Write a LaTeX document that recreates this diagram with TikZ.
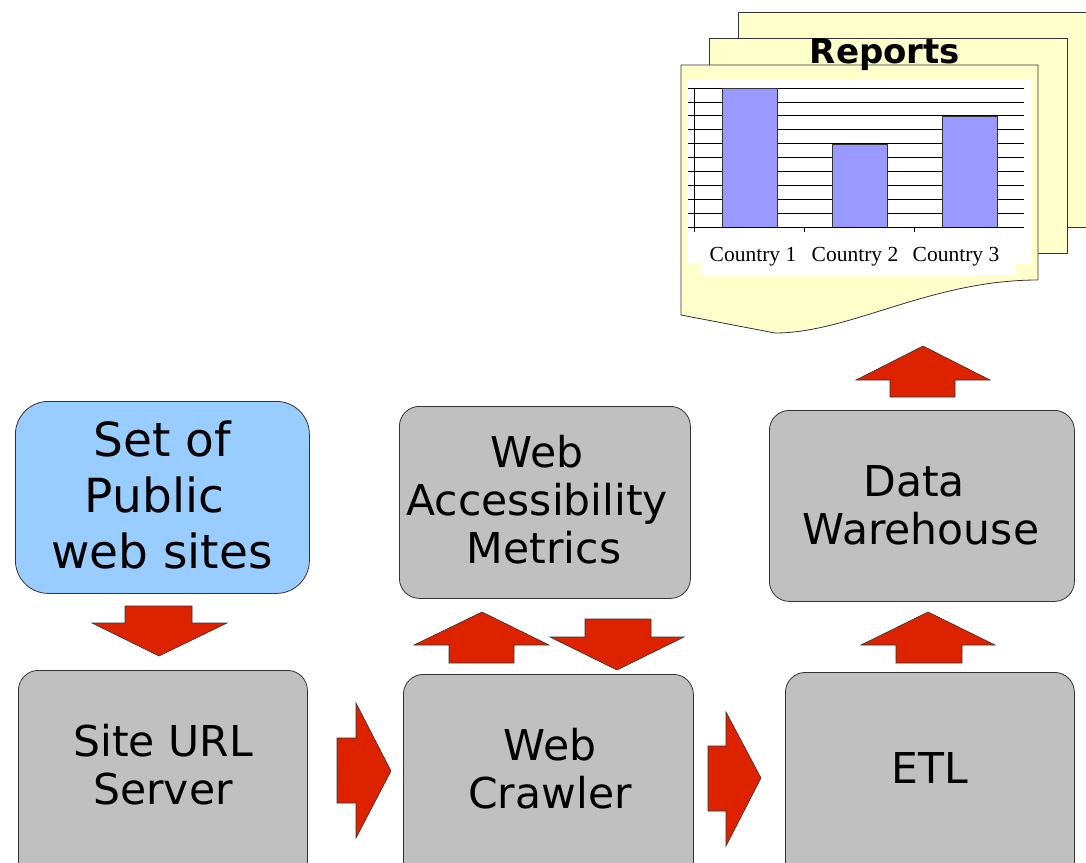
\documentclass[tikz,border=0pt]{standalone}
\usepackage{fontspec}
\setmainfont{DejaVu Sans}
\newfontfamily\chartfont{Liberation Serif}
\definecolor{boxblue}{HTML}{99CCFF}
\definecolor{boxgray}{HTML}{C0C0C0}
\definecolor{arrred}{HTML}{DD2200}
\definecolor{pageyellow}{HTML}{FFFFCC}
\definecolor{barblue}{HTML}{9999FF}
\definecolor{edge}{HTML}{333333}
\newcommand{\trail}[1]{\rule{#1}{0pt}}
\begin{document}
\begin{tikzpicture}[x=1pt,y=-1pt,
  graybox/.style={draw=edge, line width=0.8pt, fill=boxgray, rounded corners=20pt, anchor=north west, inner sep=0pt},
  bluebox/.style={draw=edge, line width=0.8pt, fill=boxblue, rounded corners=33pt, anchor=north west, inner sep=0pt},
  boxtext/.style={align=center, inner sep=0pt, font=\fontsize{42.5}{48}\selectfont},
  bigtext/.style={align=center, inner sep=0pt, font=\fontsize{47}{56}\selectfont},
  blockarrow/.style={fill=arrred, draw=black!80, line width=0.6pt},
  page/.style={fill=pageyellow, draw=edge, line width=0.8pt},
  grid/.style={draw=black, line width=0.8pt},
  bar/.style={fill=barblue, draw=edge, line width=0.8pt},
  country/.style={font=\chartfont\fontsize{21.5}{24}\selectfont, anchor=base, inner sep=0pt}
]
\useasboundingbox (0,0) rectangle (1086,862);

% ---------- boxes ----------
\node[bluebox, minimum width=294pt, minimum height=192pt] (sites) at (15,401) {};
\node[bigtext] (sitesT) at (162,495) {Set of\\Public\trail{15pt}\\web sites};

\node[graybox, minimum width=289pt, minimum height=220pt] (url) at (18,670) {};
\node[boxtext] (urlT) at (163,765) {Site URL\\Server};

\node[graybox, minimum width=291pt, minimum height=192pt] (wam) at (399,406) {};
\node[boxtext] (wamT) at (544,500) {Web\trail{13.5pt}\\Accessibility\trail{13.5pt}\\Metrics};

\node[graybox, minimum width=290pt, minimum height=220pt] (crawl) at (403,674) {};
\node[boxtext] (crawlT) at (550,769) {Web\\Crawler};

\node[graybox, minimum width=305pt, minimum height=191pt] (dw) at (769,410) {};
\node[boxtext] (dwT) at (921,505) {Data\trail{13.5pt}\\Warehouse};

\node[graybox, minimum width=289pt, minimum height=220pt] (etl) at (785,672) {};
\node[boxtext] (etlT) at (930,768) {ETL};

% ---------- block arrows ----------
% down: sites -> url
\draw[blockarrow] (125,606) -- (192,606) -- (192,623) -- (227,623) -- (159,656) -- (92,623) -- (125,623) -- cycle;
% up: crawler -> metrics
\draw[blockarrow] (449,663) -- (449,645) -- (414,645) -- (482,612) -- (549,645) -- (514,645) -- (514,663) -- cycle;
% down: metrics -> crawler
\draw[blockarrow] (585,619) -- (651,619) -- (651,637) -- (684,637) -- (617,670) -- (550,637) -- (585,637) -- cycle;
% right: url -> crawler
\draw[blockarrow] (337,738) -- (356,738) -- (356,703) -- (391,771) -- (356,838) -- (356,803) -- (337,803) -- cycle;
% right: crawler -> etl
\draw[blockarrow] (708,746) -- (726,746) -- (726,712) -- (761,778) -- (726,846) -- (726,811) -- (708,811) -- cycle;
% up: etl -> dw
\draw[blockarrow] (896,663) -- (896,645) -- (861,645) -- (928,612) -- (995,645) -- (962,645) -- (962,663) -- cycle;
% up: dw -> reports
\draw[blockarrow] (890,397) -- (890,380) -- (856,380) -- (923,346) -- (990,380) -- (955,380) -- (955,397) -- cycle;

% ---------- reports ----------
\draw[page] (738,12) rectangle (1100,227);
\draw[page] (709,38) rectangle (1067,253);
\draw[page] (681,65) -- (1038,65) -- (1038,280)
  .. controls (930,280) and (850,333) .. (775,333)
  -- (681,315) -- cycle;
\node[font=\bfseries\fontsize{34}{40}\selectfont, anchor=base, inner sep=0pt] (rep) at (885,63) {Reports};

\fill[white] (688,80) rectangle (1032,263);
\fill[white] (702,263) rectangle (1016,275);
\foreach \k in {0,...,10} {
  \draw[grid] (688,{88+\k*13.9}) -- (1024,{88+\k*13.9});
}
\draw[grid] (694,88) -- (694,232);
\draw[grid] (804,227) -- (804,232);
\draw[grid] (914,227) -- (914,232);
\draw[bar] (722,88) rectangle (777,227);
\draw[bar] (832,144) rectangle (887,227);
\draw[bar] (942,116) rectangle (997,227);
\draw[grid] (688,227) -- (1024,227);
\node[country] (c1) at (753,261) {Country 1};
\node[country] (c2) at (855,261) {Country 2};
\node[country] (c3) at (956,261) {Country 3};
\end{tikzpicture}
\end{document}
